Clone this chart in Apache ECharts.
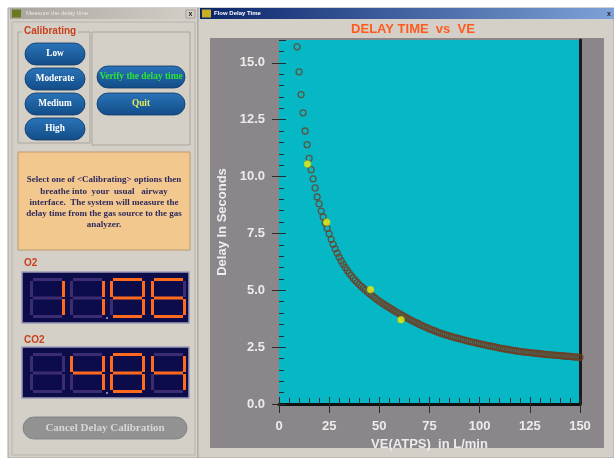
<!DOCTYPE html>
<html><head><meta charset="utf-8">
<script src="https://cdn.jsdelivr.net/npm/echarts@6/dist/echarts.min.js"></script>
<style>html,body{margin:0;padding:0;background:#fff}#c{width:614px;height:458px}</style>
</head><body><div id="c"></div>
<script>
// ---- data ----
const veValues = [9,10,11,12,13,14,15,16,17,18,19,20,21,22,23,24,25,26,27,28,29,30,
31,32,33,34,35,36,37,38,39,40,41,42,43,44,45,46,47,48,49,50,51,52,53,54,55,56,57,58,59,60,
61,62,63,64,65,66,67,68,69,70,71,72,73,74,75,76,77,78,79,80,81,82,83,84,85,86,87,88,89,90,
91,92,93,94,95,96,97,98,99,100,101,102,103,104,105,106,107,108,109,110,111,112,113,114,115,116,117,118,119,120,
121,122,123,124,125,126,127,128,129,130,131,132,133,134,135,136,137,138,139,140,141,142,143,144,145,146,147,148,149,150];
const delayValues = [15.7,14.6,13.6,12.8,12.0,11.4,10.8,10.3,9.9,9.5,9.1,8.8,
8.48,8.22,7.96,7.72,7.48,7.24,7.02,6.82,6.63,6.45,
6.29,6.14,6.00,5.87,5.75,5.64,5.53,5.43,5.34,5.25,
5.17,5.09,5.01,4.93,4.86,4.79,4.72,4.65,4.58,4.52,
4.46,4.40,4.34,4.29,4.23,4.18,4.12,4.07,4.02,3.97,
3.92,3.87,3.82,3.77,3.72,3.68,3.63,3.59,3.55,3.50,
3.46,3.42,3.38,3.34,3.30,3.27,3.23,3.20,3.16,3.13,
3.10,3.07,3.04,3.02,2.99,2.96,2.94,2.91,2.89,2.87,
2.84,2.82,2.80,2.77,2.75,2.73,2.71,2.69,2.67,2.65,
2.63,2.61,2.59,2.57,2.55,2.54,2.52,2.50,2.48,2.46,
2.44,2.43,2.41,2.40,2.38,2.37,2.35,2.34,2.32,2.31,
2.30,2.29,2.28,2.27,2.26,2.25,2.24,2.23,2.22,2.21,
2.20,2.19,2.18,2.17,2.17,2.16,2.15,2.14,2.14,2.13,
2.12,2.11,2.10,2.10,2.09,2.08,2.07,2.07,2.06,2.05];
const calVE = [14.2, 23.8, 45.6, 60.8];
const calDelay = [10.55, 7.99, 5.03, 3.70];
const xTickLabels = ['0','25','50','75','100','125','150'];
const yTickLabels = ['0.0','2.5','5.0','7.5','10.0','12.5','15.0'];
const leftButtons = ['Low','Moderate','Medium','High'];
const o2Reading = '11.96';
const co2Reading = ' 4.84';
const infoLines = ['Select one of <Calibrating> options then','breathe into  your  usual   airway',
  'interface.  The system will measure the','delay time from the gas source to the gas','analyzer.'];

// ---- build ----
const curve = veValues.map((v,i)=>[v, delayValues[i]]);
const cal = calVE.map((v,i)=>[v, calDelay[i]]);
const G = [];
function rect(x,y,w,h,fill,extra){ G.push(Object.assign({type:'rect',z:-5,shape:{x:x,y:y,width:w,height:h,r:(extra&&extra.r)||0},style:{fill:fill,stroke:(extra&&extra.stroke)||null,lineWidth:(extra&&extra.lw)||0}},extra&&extra.z!=null?{z:extra.z}:{})); }
function text(x,y,t,fill,font,align,z){ G.push({type:'text',z:z==null?-4:z,style:{x:x,y:y,text:t,fill:fill,font:font,align:align||'left',verticalAlign:'middle'}}); }
function grad(c1,c2){ return {type:'linear',x:0,y:0,x2:1,y2:0,colorStops:[{offset:0,color:c1},{offset:1,color:c2}]}; }
function vgrad(c1,c2){ return {type:'linear',x:0,y:0,x2:0,y2:1,colorStops:[{offset:0,color:c1},{offset:1,color:c2}]}; }

// windows
rect(0,0,614,458,'#ffffff',{z:-9});
rect(8,8,190,450,'#d4d0c8',{z:-8,stroke:'#a8a49c',lw:1});
rect(198,8,416,450,'#d4d0c8',{z:-8,stroke:'#a8a49c',lw:1});
rect(10,8,187,11,grad('#a9a59e','#d4d0c8'),{z:-7});
text(26,13.5,'Measure the delay time','#e8e6e0','6px "Liberation Sans"');
rect(12,9.5,9,8,'#6a7a20',{z:-6});
rect(186,10,9,8,'#d4d0c8',{z:-6,stroke:'#808080',lw:0.6});
text(190.5,14,'x','#222','bold 7px "Liberation Sans"','center');
rect(200,8,414,11,grad('#0a246a','#7da2d8'),{z:-7});
rect(202,9.5,9,8,'#c8b020',{z:-6});
text(214,13.5,'Flow Delay Time','#ffffff','bold 6px "Liberation Sans"');
text(609,14,'x','#222','bold 7px "Liberation Sans"','center');
rect(12,22,183,433,'#d4d0c8',{z:-7,stroke:'#b8b4ac',lw:1});
// chart panel
rect(210,38,394,410,'#8a868a',{z:-6});

// left group boxes
rect(18,32,72,111,'none',{z:-6,stroke:'#aaa69e',lw:1});
rect(92,32,98,113,'none',{z:-6,stroke:'#aaa69e',lw:1});
rect(22,25,56,11,'#d4d0c8',{z:-5});
text(24,31,'Calibrating','#c8401c','bold 10px "Liberation Sans"');
const btnY = [54,79,104,129];
leftButtons.forEach((b,i)=>{
  rect(25,btnY[i]-11,60,22,vgrad('#2a74b8','#124c88'),{z:-4,r:11,stroke:'#0c3866',lw:0.8});
  text(55,btnY[i],b,'#ffffff','bold 9.3px "Liberation Serif"','center',-3);
});
rect(97,66,88,22,vgrad('#2a74b8','#124c88'),{z:-4,r:11,stroke:'#0c3866',lw:0.8});
text(141,77,'Verify the delay time','#2ee43a','bold 9.4px "Liberation Serif"','center',-3);
rect(97,93,88,22,vgrad('#2a74b8','#124c88'),{z:-4,r:11,stroke:'#0c3866',lw:0.8});
text(141,104,'Quit','#e4e860','bold 9.3px "Liberation Serif"','center',-3);

// info box
rect(18,152,172,98,'#f3c88f',{z:-5,stroke:'#b89a70',lw:1});
const infoY=[180,191.5,202.5,213.5,224.5];
infoLines.forEach((l,i)=>text(104,infoY[i],l,'#2f2a5c','bold 9px "Liberation Serif"','center'));

// LED displays
const SEG = {'0':'abcdef','1':'bc','2':'abged','3':'abgcd','4':'fgbc','5':'afgcd','6':'afgedc','7':'abc','8':'abcdefg','9':'abcdfg',' ':''};
function digit(x0,y0,w,h,ch){
  const on = SEG[ch]||'';
  const t=3, hh=h/2;
  const segs = {a:[x0+t,y0,w-2*t,t], g:[x0+t,y0+hh-t/2,w-2*t,t], d:[x0+t,y0+h-t,w-2*t,t],
    f:[x0,y0+t,t,hh-t-1], b:[x0+w-t,y0+t,t,hh-t-1], e:[x0,y0+hh+1,t,hh-t-1], c:[x0+w-t,y0+hh+1,t,hh-t-1]};
  Object.keys(segs).forEach(k=>{const s=segs[k]; rect(s[0],s[1],s[2],s[3], on.indexOf(k)>=0?'#ff6a1c':'#3c2c72',{z:-3});});
}
function display(y0,reading){
  rect(22,y0,167,51,'#0d0c4a',{z:-4,stroke:'#9a9ab8',lw:1.5});
  const chars = reading.replace('.','').split('');
  const xs=[30,70,110,151];
  chars.forEach((c,i)=>digit(xs[i],y0+6,35,40,c));
  rect(106,y0+45,2,2,'#8a80b0',{z:-3});
}
text(24,263,'O2','#c8401c','bold 10px "Liberation Sans"');
display(272,o2Reading);
text(24,340,'CO2','#c8401c','bold 10px "Liberation Sans"');
display(347,co2Reading);
rect(23,417,164,22,'#929292',{z:-4,r:11,stroke:'#7c7c7c',lw:0.8});
text(105,428,'Cancel Delay Calibration','#d6d6d6','bold 11px "Liberation Serif"','center',-3);

const chart = echarts.init(document.getElementById('c'));
const tickColor = '#2c2c2c';
const lblFont = {color:'#ececec',fontWeight:'bold',fontSize:13,fontFamily:'Liberation Sans'};
chart.setOption({
  animation:false,
  title:{text:'DELAY TIME  vs  VE',left:408,top:18,textAlign:'center',
    textStyle:{color:'#ff5a1e',fontWeight:'bold',fontSize:13,fontFamily:'Liberation Sans'}},
  graphic:G,
  grid:{left:279,right:34,top:40,bottom:54,show:true,backgroundColor:'#06b8c5',borderWidth:0},
  xAxis:[
    {type:'value',min:0,max:150,interval:25,position:'bottom',
     name:'VE(ATPS)  in L/min',nameLocation:'middle',nameGap:31,
     nameTextStyle:{color:'#ececec',fontWeight:'bold',fontSize:13,fontFamily:'Liberation Sans'},
     axisLine:{show:true,lineStyle:{color:'#111',width:3}},
     axisTick:{show:true,inside:false,length:9,lineStyle:{color:tickColor,width:1}},
     axisLabel:Object.assign({margin:16,formatter:(v)=>xTickLabels[Math.round(v/25)]||''},lblFont),
     splitLine:{show:false}},
    {type:'value',min:0,max:150,interval:25,position:'bottom',
     axisLine:{show:false},axisLabel:{show:false},splitLine:{show:false},
     axisTick:{show:true,inside:true,length:7,lineStyle:{color:tickColor,width:1}},
     minorTick:{show:true,splitNumber:5,length:6,lineStyle:{color:tickColor,width:1}}}
  ],
  yAxis:[
    {type:'value',min:0,max:16,interval:2.5,position:'left',
     name:'Delay In Seconds',nameLocation:'middle',nameGap:50,
     nameTextStyle:{color:'#ececec',fontWeight:'bold',fontSize:13,fontFamily:'Liberation Sans'},
     axisLine:{show:false},
     axisTick:{show:true,inside:false,length:7,lineStyle:{color:tickColor,width:1}},
     axisLabel:Object.assign({margin:14,showMaxLabel:false,formatter:(v)=>yTickLabels[Math.round(v/2.5)]||''},lblFont),
     splitLine:{show:false}},
    {type:'value',min:0,max:16,interval:2.5,position:'left',
     axisLine:{show:false},axisLabel:{show:false},splitLine:{show:false},
     axisTick:{show:true,inside:true,length:7,lineStyle:{color:tickColor,width:1}},
     minorTick:{show:true,splitNumber:5,length:5,lineStyle:{color:tickColor,width:1}}},
    {type:'value',min:0,max:16,position:'right',
     axisLine:{show:true,lineStyle:{color:'#1a1a1a',width:3}},
     axisTick:{show:false},axisLabel:{show:false},splitLine:{show:false}}
  ],
  series:[
    {type:'scatter',xAxisIndex:0,yAxisIndex:0,data:curve,symbol:'circle',symbolSize:6,
     itemStyle:{color:'rgba(0,0,0,0)',borderColor:'#6e3d22',borderWidth:1.3},z:3},
    {type:'scatter',xAxisIndex:0,yAxisIndex:0,data:cal,symbol:'circle',symbolSize:7,
     itemStyle:{color:'#eef00c',borderColor:'#b8b800',borderWidth:0.5},z:4}
  ]
});
</script></body></html>
